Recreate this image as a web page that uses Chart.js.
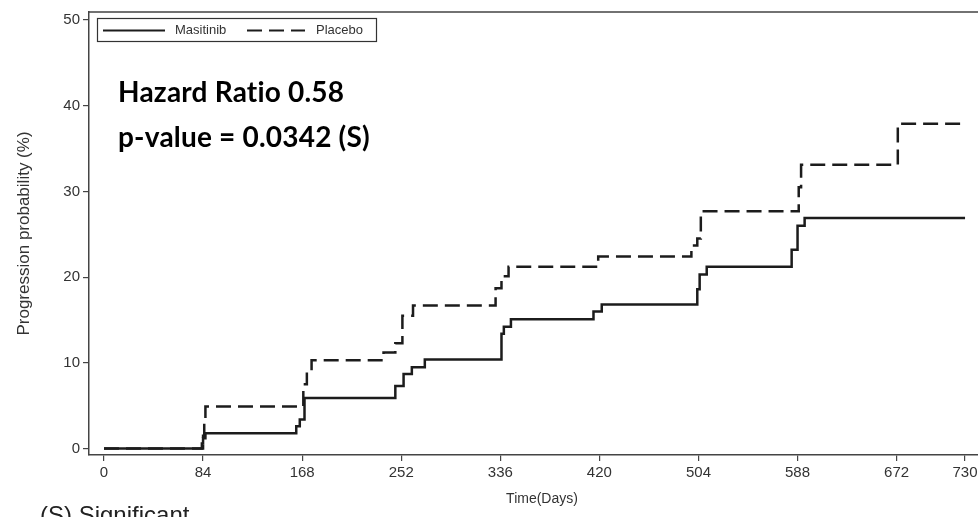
<!DOCTYPE html>
<html>
<head>
<meta charset="utf-8">
<script src="https://cdn.jsdelivr.net/npm/chart.js@4.4.1/dist/chart.umd.min.js"></script>
<style>
  html, body { margin: 0; padding: 0; background: white; overflow: hidden; }
  #wrap { position: relative; width: 1010px; height: 517px; }
  #note {
    position: absolute; left: 40px; top: 503px;
    font: 24px 'Liberation Sans', Arial, sans-serif; color: #222;
    line-height: 24px; white-space: nowrap;
  }
</style>
</head>
<body>
<div id="wrap">
  <canvas id="km"></canvas>
  <div id="note">(S) Significant</div>
</div>
<script>
// Kaplan-Meier style cumulative progression (%)
const masitinibDays = [0, 83, 84, 86, 163, 166, 170, 247, 254, 261, 272, 337, 339, 345, 415, 422, 503, 505, 511, 583, 588, 594, 730];
const masitinibProb = [0, 0.6, 1.2, 1.8, 2.6, 3.4, 5.9, 7.3, 8.7, 9.5, 10.4, 13.4, 14.2, 15.1, 16.0, 16.8, 18.6, 20.3, 21.2, 23.2, 26.0, 26.9, 26.9];

const placeboDays = [0, 84, 85, 86, 169, 172, 176, 237, 247, 253, 262, 332, 337, 343, 419, 498, 503, 506, 589, 591, 673, 730];
const placeboProb = [0, 1.5, 3.5, 4.9, 7.5, 9.0, 10.3, 11.2, 12.3, 15.5, 16.7, 18.7, 20.1, 21.2, 22.4, 23.7, 24.5, 27.7, 30.5, 33.1, 37.9, 37.9];

const xTickValues = [0, 84, 168, 252, 336, 420, 504, 588, 672, 730];
const yTickValues = [0, 10, 20, 30, 40, 50];

const seriesLabels = ['Masitinib', 'Placebo'];
const annotationLines = ['Hazard Ratio 0.58', 'p-value = 0.0342 (S)'];

function toPoints(days, vals) {
  return days.map((d, i) => ({ x: d, y: vals[i] }));
}

Chart.defaults.font.family = "'Liberation Sans', Arial, sans-serif";
Chart.defaults.font.size = 15;
Chart.defaults.color = '#333';

// frame on top/right, in-plot legend box and the hazard ratio text
const framePlugin = {
  id: 'frameAndNotes',
  afterDraw: (chart) => {
    const {ctx, chartArea} = chart;
    const {left, top, right, bottom} = chartArea;
    ctx.save();
    ctx.strokeStyle = '#444';
    ctx.lineWidth = 1.5;
    ctx.beginPath();
    ctx.moveTo(left, top);
    ctx.lineTo(right, top);
    ctx.lineTo(right, bottom);
    ctx.stroke();

    // legend
    const bx = left + 8, by = top + 6, bw = 279, bh = 23;
    ctx.lineWidth = 1.2;
    ctx.strokeStyle = '#333';
    ctx.strokeRect(bx + 0.5, by + 0.5, bw, bh);
    const ly = by + bh / 2 + 1;
    const items = [
      { x0: bx + 6, x1: bx + 68, tx: bx + 78, ds: chart.data.datasets[0] },
      { x0: bx + 150, x1: bx + 208, tx: bx + 219, ds: chart.data.datasets[1] },
    ];
    ctx.font = "13px 'Liberation Sans', Arial, sans-serif";
    ctx.textBaseline = 'middle';
    items.forEach(it => {
      ctx.strokeStyle = it.ds.borderColor;
      ctx.lineWidth = 2.2;
      ctx.setLineDash(it.ds.borderDash || []);
      ctx.beginPath();
      ctx.moveTo(it.x0, ly);
      ctx.lineTo(it.x1, ly);
      ctx.stroke();
      ctx.setLineDash([]);
      ctx.fillStyle = '#333';
      ctx.fillText(it.ds.label, it.tx, ly);
    });

    // annotation (no ligatures, so "ti" stays two letters)
    ctx.fillStyle = '#000';
    ctx.textBaseline = 'alphabetic';
    ctx.textRendering = 'optimizeSpeed';
    ctx.letterSpacing = '0.2px';
    ctx.font = "bold 28px Lato, 'Open Sans', sans-serif";
    ctx.fillText(annotationLines[0], left + 29, top + 90);
    ctx.fillText(annotationLines[1], left + 29, top + 135);
    ctx.restore();
  }
};

new Chart(document.getElementById('km'), {
  type: 'line',
  data: {
    datasets: [
      {
        label: seriesLabels[0],
        data: toPoints(masitinibDays, masitinibProb),
        borderColor: '#1c1c1c',
        borderWidth: 2.5,
        stepped: true,
        pointRadius: 0,
        fill: false,
      },
      {
        label: seriesLabels[1],
        data: toPoints(placeboDays, placeboProb),
        borderColor: '#1c1c1c',
        borderWidth: 2.5,
        borderDash: [15, 7],
        stepped: true,
        pointRadius: 0,
        fill: false,
      },
    ]
  },
  options: {
    responsive: true,
    maintainAspectRatio: false,
    animation: false,
    layout: { padding: { top: 10, right: 15, left: 0, bottom: 0 } },
    plugins: {
      legend: { display: false },
      tooltip: { enabled: false },
    },
    scales: {
      x: {
        type: 'linear',
        min: -12.7,
        max: 755.4,
        afterBuildTicks: (scale) => { scale.ticks = xTickValues.map(v => ({ value: v })); },
        afterFit: (scale) => { scale.height = 62; },
        ticks: { color: '#333', padding: 3, maxRotation: 0, autoSkip: false, font: { size: 15 } },
        grid: { drawOnChartArea: false, drawTicks: true, tickLength: 6, color: '#444', lineWidth: 1.2 },
        border: { display: true, color: '#444', width: 1.5 },
        title: { display: true, text: 'Time(Days)', color: '#333', font: { size: 14 }, padding: { top: 0, bottom: 9 } },
      },
      y: {
        type: 'linear',
        min: -0.75,
        max: 50.93,
        afterBuildTicks: (scale) => { scale.ticks = yTickValues.map(v => ({ value: v })); },
        afterFit: (scale) => { scale.width = 89; },
        ticks: { color: '#333', padding: 3, font: { size: 15 } },
        grid: { drawOnChartArea: false, drawTicks: true, tickLength: 6, color: '#444', lineWidth: 1.2 },
        border: { display: true, color: '#444', width: 1.5 },
        title: { display: true, text: 'Progression probability (%)', color: '#333', font: { size: 17 }, padding: { top: 14, bottom: 0 } },
      }
    }
  },
  plugins: [ framePlugin ]
});
</script>
</body>
</html>
